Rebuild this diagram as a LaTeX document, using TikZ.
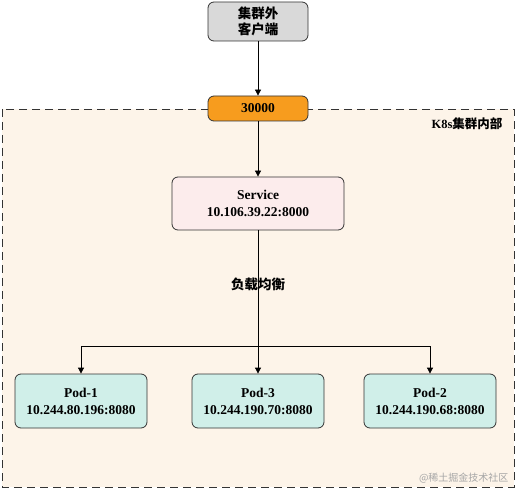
\documentclass[tikz,border=0pt]{standalone}
\usepackage{fontspec}
\setmainfont{Liberation Serif}
\newfontfamily\cjk{Noto Sans CJK SC}
\usetikzlibrary{arrows.meta}
\definecolor{greyfill}{HTML}{D9D9D9}
\definecolor{orangefill}{HTML}{F79C1E}
\definecolor{svcfill}{HTML}{FCECEC}
\definecolor{podfill}{HTML}{D0EFE9}
\definecolor{areafill}{HTML}{FDF4E9}
\definecolor{edge}{HTML}{333333}
\tikzset{
  box/.style={draw=edge, line width=0.8pt, rounded corners=6pt, align=center, inner sep=0pt, font=\fontsize{13.5}{17}\selectfont\bfseries},
  conn/.style={draw=black, line width=0.8pt, -{Triangle[length=6pt,width=6pt]}},
  plain/.style={draw=black, line width=0.8pt},
}
\begin{document}
\begin{tikzpicture}[x=1pt,y=-1pt]
\useasboundingbox (0,0) rectangle (517,489);
% cluster area
\draw[fill=areafill, draw=edge, line width=0.8pt, dash pattern=on 8pt off 5pt] (2,109) rectangle (514,487);
\node[anchor=east, font=\fontsize{12.5}{14}\selectfont\bfseries] (k8s) at (506,124) {K8s{\cjk 集群内部}};
% nodes
\node[box, fill=greyfill, minimum width=100pt, minimum height=39pt] (client) at (258,21.5) {{\cjk 集群外}\\[-1pt]{\cjk 客户端}};
\node[box, fill=orangefill, minimum width=100pt, minimum height=25pt] (port) at (258,108.5) {30000};
\node[box, fill=svcfill, minimum width=172pt, minimum height=53pt] (svc) at (258,203.5) {Service\\10.106.39.22:8000};
\node[box, fill=podfill, minimum width=132pt, minimum height=54pt] (pod1) at (81,401) {Pod-1\\10.244.80.196:8080};
\node[box, fill=podfill, minimum width=132pt, minimum height=54pt] (pod3) at (258,401) {Pod-3\\10.244.190.70:8080};
\node[box, fill=podfill, minimum width=132pt, minimum height=54pt] (pod2) at (430,401) {Pod-2\\10.244.190.68:8080};
\coordinate (split) at (258,346);
\coordinate (left) at (81,346);
\coordinate (right) at (430,346);
% connectors
\draw[conn] (client) -- (port);
\draw[conn] (port) -- (svc);
\draw[plain] (svc) -- (split);
\draw[conn] (split) -- (pod3);
\draw[conn] (left) -- (pod1);
\draw[conn] (right) -- (pod2);
\draw[plain] (left) -- (right);
\node[font=\fontsize{13.5}{15}\selectfont\cjk\bfseries] (lb) at (258,284) {负载均衡};
\node[anchor=east, text=black!35, font=\fontsize{10}{12}\selectfont\cjk] (wm) at (512,478) {@稀土掘金技术社区};
\end{tikzpicture}
\end{document}
